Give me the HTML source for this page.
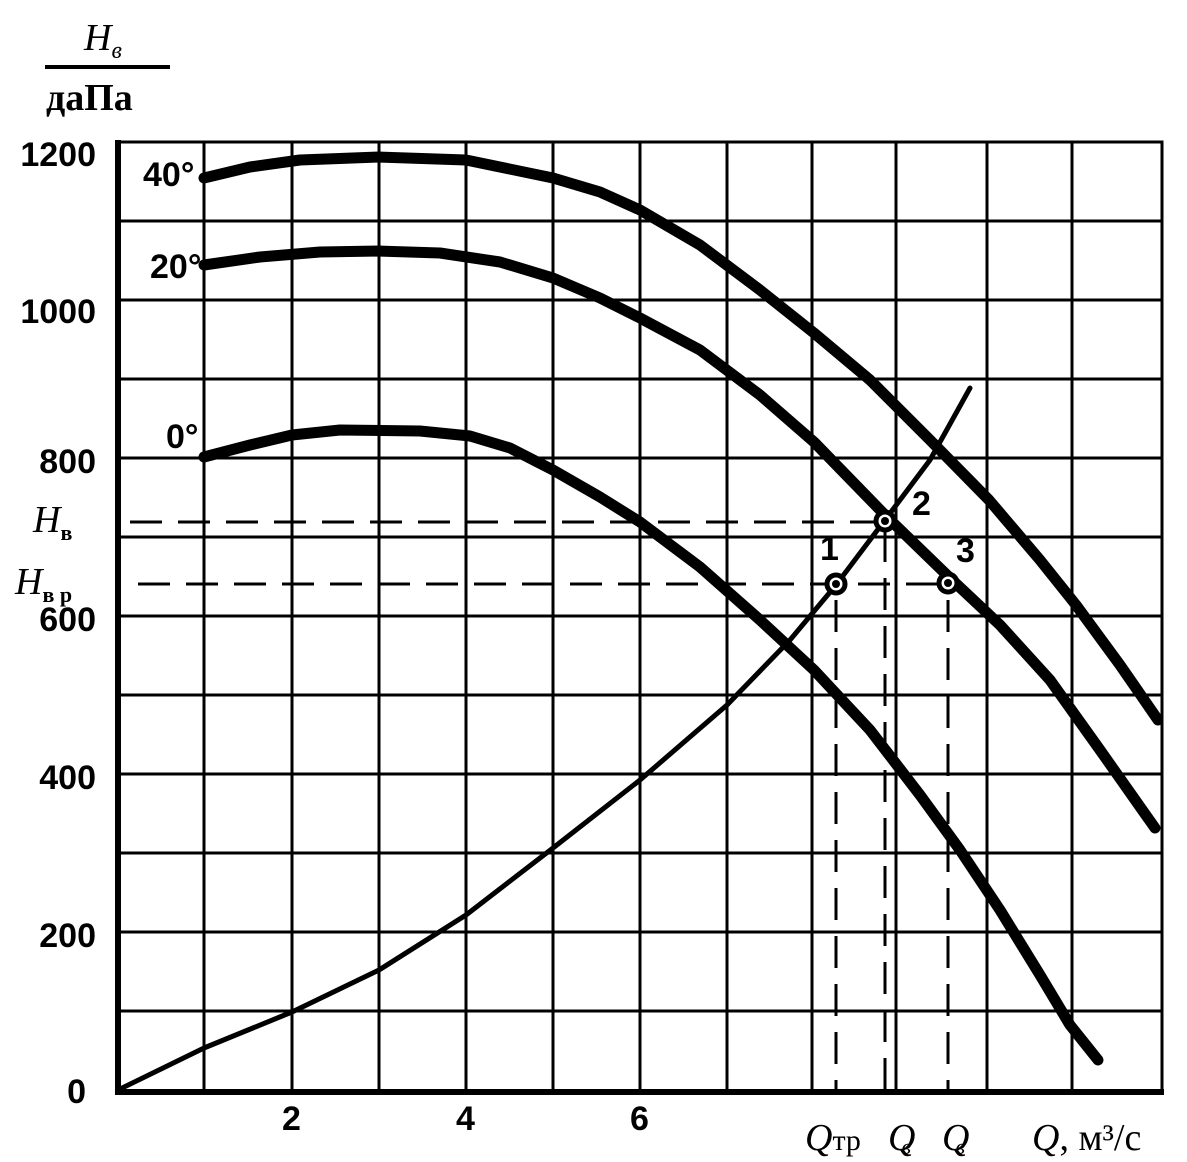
<!DOCTYPE html>
<html><head><meta charset="utf-8"><style>
html,body{margin:0;padding:0;background:#fff;}
svg{display:block;}
.n{font-family:"Liberation Sans",sans-serif;font-weight:bold;font-size:34px;}
.s{font-family:"Liberation Serif",serif;}
</style></head><body>
<svg width="1187" height="1162" viewBox="0 0 1187 1162" xmlns="http://www.w3.org/2000/svg">
<g stroke="#000" stroke-width="3" fill="none">
<path d="M204,142V1090M292,142V1090M379,142V1090M466,142V1090M553,142V1090M640,142V1090M727,142V1090M812,142V1090M896,142V1090M987,142V1090M1072,142V1090"/>
<path d="M116,221H1162M116,300H1162M116,379H1162M116,458H1162M116,537H1162M116,616H1162M116,695H1162M116,774H1162M116,853H1162M116,932H1162M116,1011H1162"/>
<path d="M116,142H1162V1090" stroke-width="3"/>
<path d="M118,140V1092H1164" stroke-width="6"/>
</g>
<g stroke="#000" stroke-width="3" fill="none" stroke-dasharray="32,16">
<path d="M130,522H885"/>
<path d="M138,584H948"/>
<path d="M836,600V1090M885,530V1090M948,600V1090"/>
</g>
<g stroke="#000" fill="none" stroke-linecap="round" stroke-linejoin="round">
<polyline stroke-width="11" points="204,178 250,167 300,160 379,157 466,160 553,178 600,192 640,210 700,245 760,290 814,333 870,380 930,440 989,500 1040,560 1076,605 1120,665 1158,720"/>
<polyline stroke-width="11" points="204,265 260,257 320,252 379,251 440,253 500,262 553,278 600,298 640,318 700,350 760,395 814,442 885,515 950,578 1000,625 1050,680 1100,750 1155,828"/>
<polyline stroke-width="11" points="204,457 250,445 292,435 340,430 420,431 470,436 510,448 553,470 600,497 640,522 700,567 760,620 814,670 870,730 920,795 960,850 1000,910 1040,975 1070,1025 1098,1060"/>
<polyline stroke-width="5" points="118,1090 204,1048 292,1012 379,970 466,915 553,848 640,780 727,705 790,640 836,585 885,520 930,460 970,388"/>
</g>
<g fill="#fff" stroke="#000" stroke-width="5">
<circle cx="836" cy="584" r="9"/><circle cx="885" cy="521" r="9"/><circle cx="948" cy="583" r="9"/>
</g>
<g fill="#000"><circle cx="836" cy="584" r="4"/><circle cx="885" cy="521" r="4"/><circle cx="948" cy="583" r="4"/></g>
<g class="n" text-anchor="end">
<text x="96" y="166">1200</text><text x="96" y="323">1000</text><text x="96" y="473">800</text>
<text x="96" y="631">600</text><text x="96" y="789">400</text><text x="96" y="947">200</text><text x="86" y="1103">0</text>
</g>
<g class="n" font-size="26">
<text x="143" y="186">40°</text><text x="150" y="278">20°</text><text x="166" y="448">0°</text>
<text x="820" y="560">1</text><text x="912" y="515">2</text><text x="956" y="562">3</text>
<text x="282" y="1130">2</text><text x="456" y="1130">4</text><text x="630" y="1130">6</text>
</g>
<g class="s" font-size="38">
<text x="84" y="50" font-style="italic">H<tspan font-size="24" dy="8">в</tspan></text>
<text x="46" y="110" font-weight="bold">даПа</text>
<text x="33" y="532" font-style="italic">H<tspan font-size="22" font-style="normal" font-weight="bold" dy="8">в</tspan></text>
<text x="15" y="594" font-style="italic">H<tspan font-size="22" font-style="normal" font-weight="bold" dy="8">в р</tspan></text>
<text x="805" y="1150" font-style="italic">Q<tspan font-style="normal" font-size="30">тр</tspan></text>
<text x="888" y="1150" font-style="italic">Q<tspan font-size="22" dx="-14" dy="4">в</tspan></text>
<text x="942" y="1150" font-style="italic">Q<tspan font-size="22" dx="-14" dy="4">в</tspan></text>
<text x="1032" y="1150"><tspan font-style="italic">Q</tspan>, м³/с</text>
</g>
<line x1="45" y1="67" x2="170" y2="67" stroke="#000" stroke-width="4"/>
</svg>
</body></html>
